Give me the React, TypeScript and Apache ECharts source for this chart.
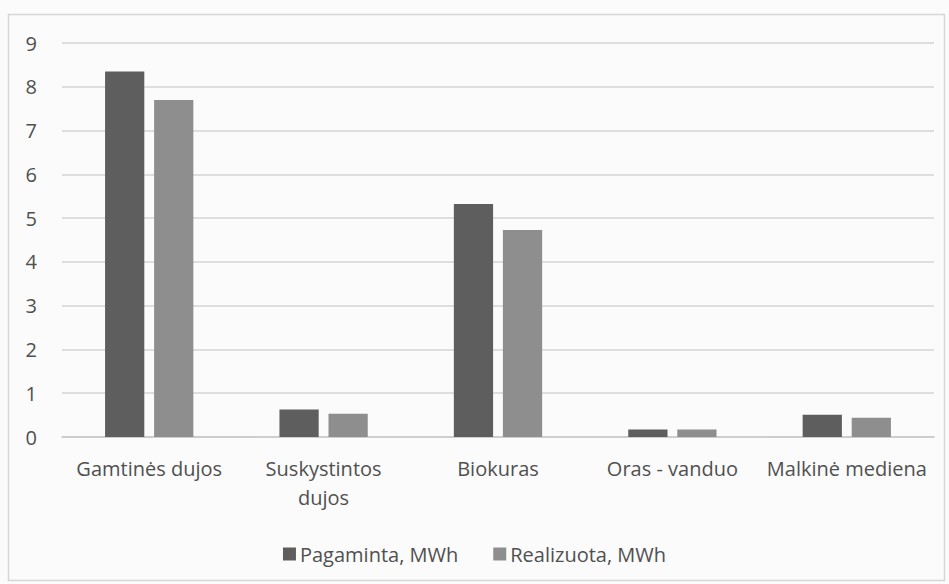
import React, { useEffect, useRef } from "react";
import * as echarts from "echarts";

const categories = ["Gamtinės dujos", "Suskystintos\ndujos", "Biokuras", "Oras - vanduo", "Malkinė mediena"];
const pagaminta = [8.35, 0.63, 5.32, 0.17, 0.51];
const realizuota = [7.7, 0.53, 4.73, 0.17, 0.44];
const seriesNames = ["Pagaminta, MWh", "Realizuota, MWh"];

const FONT = "'Open Sans', Lato, sans-serif";

export default function App() {
  const ref = useRef<HTMLDivElement>(null);
  useEffect(() => {
    const chart = echarts.init(ref.current!, null, { renderer: "svg" });
    chart.setOption({
      animation: false,
      backgroundColor: "#fbfbfb",
      textStyle: { fontFamily: FONT },
      graphic: [
        {
          type: "rect",
          shape: { x: 8.5, y: 14.5, width: 936, height: 566 },
          style: { fill: "none", stroke: "#d6d6d6", lineWidth: 1.5 },
          silent: true,
        },
      ],
      grid: { left: 62, right: 15, top: 43, bottom: 147, containLabel: false },
      legend: {
        data: seriesNames,
        top: 539,
        left: "center",
        itemWidth: 13,
        itemHeight: 13,
        itemGap: 35,
        icon: "rect",
        textStyle: { fontFamily: FONT, fontSize: 20, color: "#505050", padding: [0, 0, 0, -1] },
      },
      xAxis: {
        type: "category",
        data: categories,
        axisLine: { show: true, lineStyle: { color: "#c8c8c8", width: 1.5 } },
        axisTick: { show: false },
        axisLabel: {
          fontFamily: FONT,
          fontSize: 20,
          color: "#505050",
          margin: 17,
          lineHeight: 29,
          interval: 0,
        },
      },
      yAxis: {
        type: "value",
        min: 0,
        max: 9,
        interval: 1,
        axisLine: { show: false },
        axisTick: { show: false },
        splitLine: { lineStyle: { color: "#d4d4d4", width: 1.5 } },
        axisLabel: { fontFamily: FONT, fontSize: 20, color: "#505050", margin: 25 },
      },
      series: [
        {
          name: seriesNames[0],
          type: "bar",
          data: pagaminta,
          barWidth: "22.5%",
          barGap: "25%",
          itemStyle: { color: "#5e5e5e" },
        },
        {
          name: seriesNames[1],
          type: "bar",
          data: realizuota,
          barWidth: "22.5%",
          itemStyle: { color: "#8e8e8e" },
        },
      ],
    });
    return () => chart.dispose();
  }, []);
  return (
    <div
      ref={ref}
      style={{ position: "absolute", left: 0, top: 0, width: 949, height: 584 }}
    />
  );
}
